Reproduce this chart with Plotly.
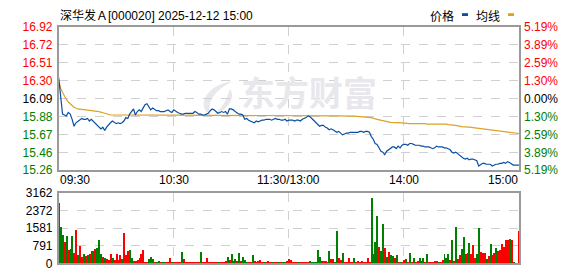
import plotly.graph_objects as go

# ---------------- data ----------------
minutes = list(range(241))

price = [
    16.33, 16.10, 15.91, 15.90, 15.89, 15.93, 15.91, 15.85, 15.77, 15.81,
    15.83, 15.84, 15.86, 15.85, 15.85, 15.86, 15.83, 15.85, 15.83, 15.80,
    15.79, 15.77, 15.74, 15.76, 15.72, 15.76, 15.79, 15.81, 15.83, 15.81,
    15.80, 15.81, 15.80, 15.81, 15.83, 15.87, 15.86, 15.91, 15.94, 15.97,
    15.90, 15.94, 15.96, 15.94, 15.98, 16.02, 16.03, 15.99, 15.96, 15.98,
    15.96, 15.95, 15.95, 15.94, 15.94, 15.94, 15.95, 15.96, 15.94, 15.93,
    15.96, 15.94, 15.93, 15.92, 15.91, 15.91, 15.92, 15.92, 15.92, 15.92,
    15.92, 15.94, 15.93, 15.91, 15.91, 15.90, 15.90, 15.91, 15.92, 15.95,
    15.97, 15.96, 15.94, 15.92, 15.93, 15.94, 15.93, 15.94, 15.91, 15.97,
    15.97, 15.96, 15.94, 15.92, 15.91, 15.91, 15.90, 15.85, 15.86, 15.84,
    15.83, 15.82, 15.81, 15.83, 15.82, 15.83, 15.84, 15.84, 15.85, 15.85,
    15.85, 15.84, 15.85, 15.86, 15.85, 15.85, 15.84, 15.84, 15.85, 15.83,
    15.84, 15.84, 15.84, 15.83, 15.84, 15.84, 15.83, 15.85, 15.86, 15.87,
    15.89, 15.88, 15.86, 15.84, 15.82, 15.80, 15.77, 15.78, 15.78, 15.76,
    15.75, 15.73, 15.74, 15.73, 15.71, 15.70, 15.71, 15.69, 15.67, 15.68,
    15.69, 15.69, 15.70, 15.70, 15.70, 15.70, 15.70, 15.71, 15.71, 15.70,
    15.71, 15.71, 15.70, 15.65, 15.62, 15.57, 15.56, 15.52, 15.48, 15.47,
    15.44, 15.48, 15.50, 15.52, 15.53, 15.53, 15.51, 15.54, 15.52, 15.55,
    15.56, 15.56, 15.55, 15.57, 15.57, 15.56, 15.55, 15.55, 15.55, 15.54,
    15.54, 15.53, 15.53, 15.53, 15.52, 15.51, 15.52, 15.54, 15.53, 15.53,
    15.53, 15.52, 15.52, 15.51, 15.50, 15.47, 15.46, 15.47, 15.45, 15.44,
    15.41, 15.40, 15.39, 15.40, 15.38, 15.39, 15.39, 15.38, 15.37, 15.31,
    15.33, 15.34, 15.34, 15.33, 15.33, 15.33, 15.31, 15.32, 15.33, 15.33,
    15.34, 15.34, 15.35, 15.34, 15.36, 15.35, 15.33, 15.32, 15.32, 15.32,
    15.32,
]

avg_minutes = [0, 1, 2, 3, 4, 5, 6, 7, 8, 10, 13, 16, 21, 24, 27, 60, 120,
               139, 140, 146, 154, 159, 163, 166, 170, 172, 173, 179, 183,
               191, 192, 202, 203, 207, 210, 214, 217, 221, 224, 228, 231,
               233, 236, 240]
avg_price = [16.30, 16.21, 16.16, 16.11, 16.08, 16.05, 16.03, 16.01, 15.99,
             15.97, 15.96, 15.95, 15.94, 15.92, 15.90, 15.898, 15.898,
             15.898, 15.895, 15.89, 15.887, 15.876, 15.869, 15.85, 15.832,
             15.82, 15.814, 15.81, 15.80, 15.80, 15.795, 15.795, 15.788,
             15.78, 15.766, 15.759, 15.751, 15.74, 15.73, 15.722, 15.715,
             15.704, 15.693, 15.686]

volume = [
    2706, 1638, 1282, 968, 1239, 598, 641, 1210, 456, 1509,
    370, 769, 285, 399, 313, 356, 427, 570, 541, 641,
    669, 1068, 427, 285, 256, 171, 142, 427, 214, 142,
    427, 142, 356, 171, 1381, 356, 541, 598, 256, 114,
    114, 142, 256, 427, 598, 71, 71, 171, 285, 171,
    28, 57, 114, 57, 28, 28, 57, 57, 214, 28,
    28, 43, 43, 43, 498, 171, 43, 43, 43, 43,
    43, 43, 43, 43, 498, 43, 43, 214, 43, 43,
    43, 43, 43, 43, 43, 43, 43, 100, 285, 142,
    399, 100, 171, 100, 456, 100, 285, 142, 71, 57,
    43, 356, 114, 57, 100, 142, 57, 43, 57, 100,
    57, 43, 43, 57, 43, 43, 28, 28, 57, 114,
    213, 142, 57, 57, 57, 57, 71, 57, 57, 57,
    57, 100, 43, 43, 43, 598, 285, 100, 100, 100,
    43, 541, 213, 213, 71, 1452, 256, 142, 456, 43,
    43, 256, 43, 43, 242, 57, 114, 57, 100, 43,
    57, 256, 43, 2919, 399, 940, 2108, 740, 570, 1766,
    683, 285, 498, 356, 313, 256, 356, 71, 43, 57,
    142, 213, 57, 456, 71, 256, 43, 85, 242, 85,
    256, 71, 427, 43, 43, 43, 114, 114, 43, 57,
    142, 399, 256, 427, 142, 1025, 114, 1638, 171, 356,
    641, 1168, 427, 456, 926, 427, 812, 242, 427, 1595,
    498, 456, 456, 213, 313, 854, 356, 456, 683, 570,
    598, 883, 740, 1025, 1054, 1111, 1054, 28, 0, 0,
    1452,
]

# R = price up (red bar), G = price down (green bar)
vol_dir = list(
    "RGGRGRGGRR" "GRRGRGRGRR" "GGGRGRRRGR" "RRRGRRRGGR" "RRRRRRRGGG"
    "RGGRGGRRRG" "R"
    "RRRGRRRRRR" "RRRGRRRRRR" "RRGRRRRGRG" "RGRGRGGGRR" "GRRRRRGRRR" "GRRGR"
    "RGGRRRRRRG" "RRRRRGGGGG" "GRRRGGRRGG" "RRGRRRRRGR" "RRRRRRR"
    "GGGGRGGRGR" "GGRGRGRRGR" "GRGRRGRGRG" "RRRRRGRRGG" "GRGRGRRGGR"
    "RGRRRGGRRR" "GRGRRGRRRR" "RRGRGRRR"
)

price_tick_labels = ["15.26", "15.46", "15.67", "15.88", "16.09",
                     "16.30", "16.51", "16.72", "16.92"]
pct_tick_labels = ["5.19%", "3.89%", "2.59%", "1.30%", "0.00%",
                   "1.30%", "2.59%", "3.89%", "5.19%"]
vol_tick_vals = [0, 791, 1581, 2372, 3162]
vol_tick_labels = ["0", "791", "1581", "2372", "3162"]
time_labels = ["09:30", "10:30", "11:30/13:00", "14:00", "15:00"]
time_label_pos = [0, 60, 120, 180, 240]

title_text = "深华发Ａ[000020] 2025-12-12 15:00"

# ---------------- style / layout ----------------
W, H = 578, 276
X0, X1 = 58.7, 519.0
P_TOP, P_BOT = 21.0, 172.0
V_TOP, V_BOT = 196.0, 270.0


def fx(x):
    return x / W


def fy(y):
    return 1 - y / H


RED = "#ff0000"
GREEN = "#008000"
BLACK = "#000000"
BLUE = "#0b4fa3"
ORANGE = "#dca226"
GRID = "#d0d0d0"
BORDER = "#9a9a9a"
FONT = "Liberation Sans, Arial, sans-serif"
CJK = "Noto Sans CJK SC, sans-serif"

p_lo = float(price_tick_labels[0])
p_hi = float(price_tick_labels[-1])
n = len(price_tick_labels)
p_tickvals = [p_lo + i * (p_hi - p_lo) / (n - 1) for i in range(n)]
mid = (n - 1) // 2


def tick_color(i):
    if i > mid:
        return RED
    if i == mid:
        return BLACK
    return GREEN


left_text = [f"<span style='color:{tick_color(i)}'>{t}</span>"
             for i, t in enumerate(price_tick_labels)]
right_text = [f"<span style='color:{tick_color(i)}'>{t}</span>"
              for i, t in enumerate(pct_tick_labels)]

fig = go.Figure()

# watermark (drawn first so data lies above it)
wm_min = (309 - X0) / (X1 - X0) * 240
wm_price = p_hi - (95.5 - P_TOP) / (P_BOT - P_TOP) * (p_hi - p_lo)
fig.add_trace(go.Scatter(
    x=[wm_min], y=[wm_price], mode="text", text=["<b>东方财富</b>"],
    textfont=dict(family=CJK, size=34, color="#e8e8ec"),
    xaxis="x", yaxis="y", hoverinfo="skip", showlegend=False))

fig.add_trace(go.Scatter(
    x=avg_minutes, y=avg_price, mode="lines",
    line=dict(color=ORANGE, width=1.2), xaxis="x", yaxis="y",
    hoverinfo="skip", showlegend=False))
fig.add_trace(go.Scatter(
    x=minutes, y=price, mode="lines",
    line=dict(color=BLUE, width=1.2), xaxis="x", yaxis="y",
    hoverinfo="skip", showlegend=False))
fig.add_trace(go.Scatter(
    x=[minutes[0]], y=[price[0]], mode="markers", marker=dict(opacity=0),
    xaxis="x", yaxis="y3", hoverinfo="skip", showlegend=False))

bar_colors = [RED if d == "R" else GREEN for d in vol_dir]
fig.add_trace(go.Bar(
    x=minutes, y=volume, marker=dict(color=bar_colors, line=dict(width=0)),
    width=0.5, xaxis="x2", yaxis="y2", hoverinfo="skip", showlegend=False))

common_x = dict(
    domain=[fx(X0), fx(X1)], range=[0, 240], tickvals=[60, 120, 180],
    showticklabels=False, ticks="", showgrid=True, gridcolor=GRID,
    griddash="dash", gridwidth=1, showline=True, mirror=True,
    linecolor=BORDER, linewidth=1.5, zeroline=False, fixedrange=True)

fig.update_layout(
    width=W, height=H, autosize=False,
    margin=dict(l=0, r=0, t=0, b=0, pad=0),
    paper_bgcolor="white", plot_bgcolor="white",
    hovermode=False, showlegend=False, bargap=0,
    font=dict(family=FONT, size=12, color=BLACK),
    xaxis=dict(anchor="y", **common_x),
    xaxis2=dict(anchor="y2", **common_x),
    yaxis=dict(
        domain=[fy(P_BOT), fy(P_TOP)], range=[p_lo, p_hi],
        tickvals=p_tickvals, ticktext=left_text, ticks="",
        showgrid=True, gridcolor=GRID, griddash="dash",
        showline=True, mirror=True, linecolor=BORDER, linewidth=1.5,
        zeroline=False, tickfont=dict(family=FONT, size=12),
        ticklabelstandoff=2, fixedrange=True),
    yaxis3=dict(
        overlaying="y", side="right", anchor="x", range=[p_lo, p_hi],
        tickvals=p_tickvals, ticktext=right_text, ticks="",
        showgrid=False, showline=False, zeroline=False,
        tickfont=dict(family=FONT, size=12), ticklabelstandoff=4,
        fixedrange=True),
    yaxis2=dict(
        domain=[fy(V_BOT), fy(V_TOP)], range=[0, vol_tick_vals[-1]],
        tickvals=vol_tick_vals, ticktext=vol_tick_labels, ticks="",
        showgrid=True, gridcolor=GRID, griddash="dash",
        showline=True, mirror=True, linecolor=BORDER, linewidth=1.5,
        zeroline=False, tickfont=dict(family=FONT, size=12, color=BLACK),
        ticklabelstandoff=2, fixedrange=True),
)

annotations = []
anchors = ["left", "center", "center", "center", "right"]
for lab, pos, anc in zip(time_labels, time_label_pos, anchors):
    annotations.append(dict(
        x=pos, y=fy(182), xref="x", yref="paper", text=lab, showarrow=False,
        xanchor=anc, yanchor="middle", font=dict(family=FONT, size=12),
        borderpad=0))

annotations.append(dict(
    x=fx(X0), y=fy(8.5), xref="paper", yref="paper", text=title_text,
    showarrow=False, xanchor="left", yanchor="middle",
    font=dict(family=f"{FONT.split(',')[0]}, {CJK}", size=12), borderpad=0))
annotations.append(dict(
    x=fx(455), y=fy(8.5), xref="paper", yref="paper", text="价格",
    showarrow=False, xanchor="right", yanchor="middle",
    font=dict(family=CJK, size=12), borderpad=0))
annotations.append(dict(
    x=fx(501), y=fy(8.5), xref="paper", yref="paper", text="均线",
    showarrow=False, xanchor="right", yanchor="middle",
    font=dict(family=CJK, size=12), borderpad=0))
fig.update_layout(annotations=annotations)

shapes = [
    dict(type="rect", xref="paper", yref="paper", x0=fx(462), x1=fx(468),
         y0=fy(9.5), y1=fy(6.5), fillcolor=BLUE, line=dict(width=0)),
    dict(type="rect", xref="paper", yref="paper", x0=fx(508), x1=fx(514),
         y0=fy(9.5), y1=fy(6.5), fillcolor=ORANGE, line=dict(width=0)),
]
# watermark logo swoosh
logo = (f"M {fx(233)},{fy(78)} C {fx(206)},{fy(82)} {fx(196)},{fy(104)} "
        f"{fx(210)},{fy(114)} C {fx(207)},{fy(100)} {fx(214)},{fy(88)} "
        f"{fx(233)},{fy(78)} Z")
logo2 = (f"M {fx(230)},{fy(86)} C {fx(236)},{fy(96)} {fx(228)},{fy(108)} "
         f"{fx(214)},{fy(114)} C {fx(224)},{fy(104)} {fx(227)},{fy(96)} "
         f"{fx(230)},{fy(86)} Z")
for pth in (logo, logo2):
    shapes.append(dict(type="path", xref="paper", yref="paper", path=pth,
                       fillcolor="#e8e8ec", line=dict(width=0),
                       layer="below"))
fig.update_layout(shapes=shapes)

fig.write_html("out.html", config={"displayModeBar": False})
